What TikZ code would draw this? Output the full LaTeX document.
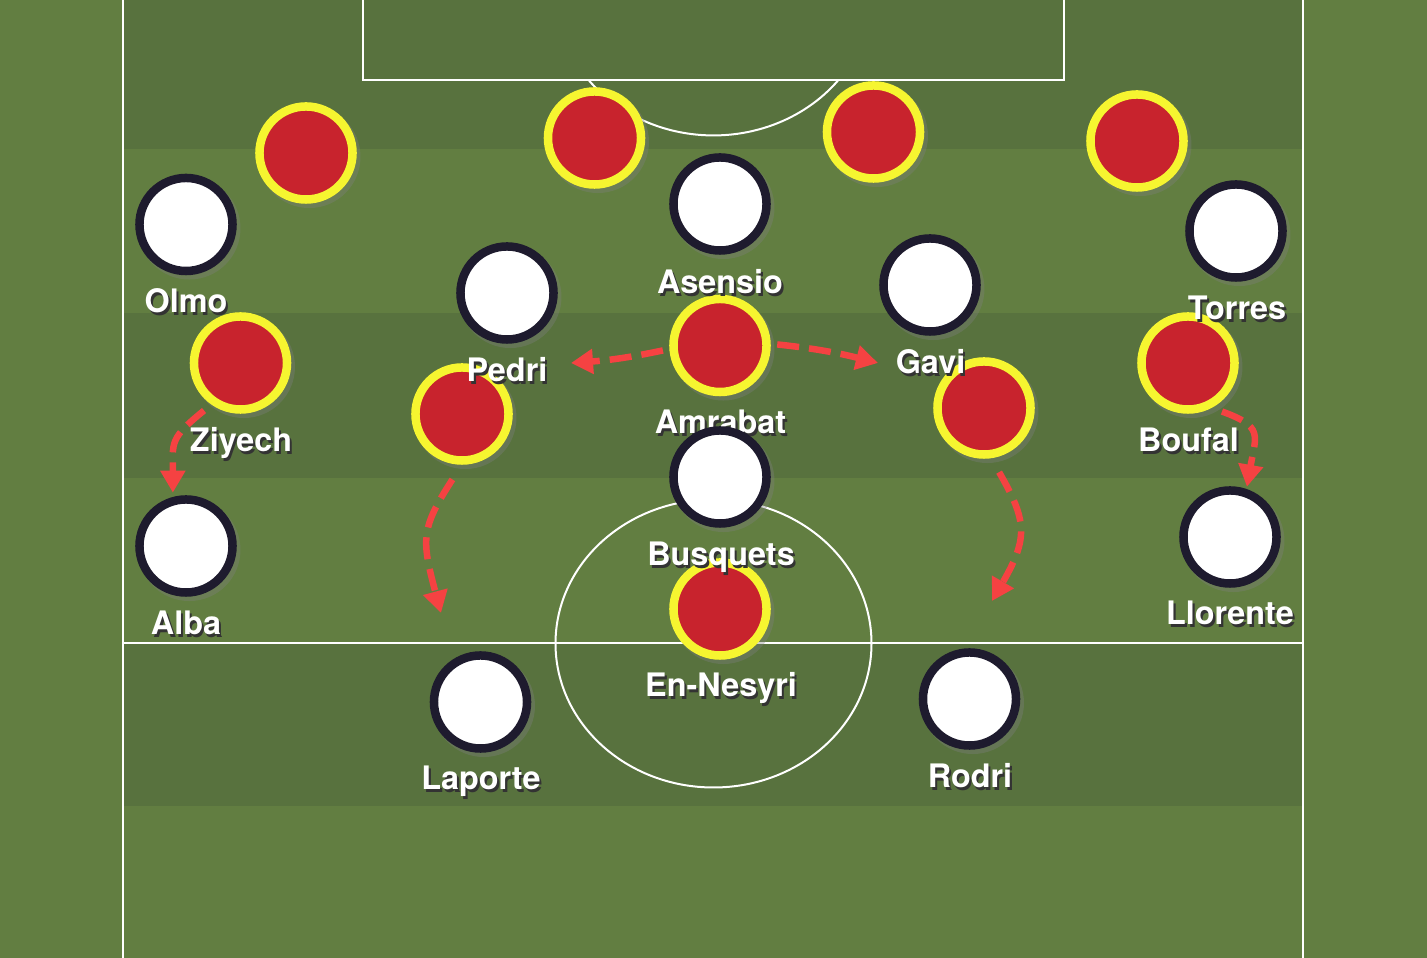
\documentclass[tikz,border=0pt]{standalone}
\usepackage{fontspec}
\setmainfont{TeX Gyre Heros}
\usetikzlibrary{arrows.meta,shadows}

\definecolor{grasslight}{RGB}{98,126,65}
\definecolor{grassdark}{RGB}{88,114,62}
\definecolor{kitred}{RGB}{200,35,45}
\definecolor{kityellow}{RGB}{246,245,48}
\definecolor{kitnavy}{RGB}{30,27,46}
\definecolor{runred}{RGB}{245,66,66}
\newcommand{\shadowtxt}[1]{\rlap{\kern0.6pt\raisebox{-0.6pt}{\color{black!80}#1}}#1}

\begin{document}
\begin{tikzpicture}[x=0.01cm,y=0.01cm,
    player/.style={circle,minimum size=0.93cm,line width=0.085cm,
      drop shadow={shadow xshift=0.03cm,shadow yshift=-0.035cm,shadow scale=1.1,opacity=0.35}},
    redp/.style={player,draw=kityellow,fill=kitred},
    whitep/.style={player,draw=kitnavy,fill=white},
    plabel/.style={text=white,font=\bfseries\fontsize{9.2}{11}\selectfont,anchor=base,inner sep=0pt},
    pitchline/.style={draw=white,line width=0.02cm},
    run/.style={draw=runred,line width=0.065cm,dash pattern=on 0.22cm off 0.1cm,
      -{Triangle[length=0.22cm,width=0.24cm]}}]
  \useasboundingbox (0,0) rectangle (1427,958);
  % grass
  \fill[grasslight] (0,0) rectangle (1427,958);
  \foreach \lo/\hi in {151.5/314.5,480/645,809/958}
    \fill[grassdark] (123,\lo) rectangle (1302.5,\hi);
  % lines
  \draw[pitchline] (123,0) -- (123,958);
  \draw[pitchline] (1302.5,0) -- (1302.5,958);
  \draw[pitchline] (123,314.5) -- (1302.5,314.5);
  \draw[pitchline] (363,958) |- (1064,877.5) -- (1064,958);
  \draw[pitchline] (838,877.5) arc[start angle=-38,end angle=-142,x radius=158,y radius=143];
  \draw[pitchline] (713.5,314.5) ellipse[x radius=158,y radius=144];

  % red side
  \node[redp] (r1) at (306,805) {};
  \node[redp] (r2) at (594.5,820) {};
  \node[redp] (r3) at (873.5,826) {};
  \node[redp] (r4) at (1137,817) {};
  \node[redp] (ziyech) at (240.5,595) {};
  \node[redp] (pr) at (462,544) {};
  \node[redp] (amrabat) at (720,612.5) {};
  \node[redp] (gr) at (984,550) {};
  \node[redp] (boufal) at (1188,595) {};
  \node[redp] (ennesyri) at (720,349) {};
  \node[plabel] (ziyechlbl) at (241,506) {\shadowtxt{Ziyech}};
  \node[plabel] (amrabatlbl) at (720.5,524) {\shadowtxt{Amrabat}};
  \node[plabel] (bouffallbl) at (1188.5,506) {\shadowtxt{Boufal}};
  \node[plabel] (ennesyrilbl) at (721,261) {\shadowtxt{En-Nesyri}};

  % white side
  \node[whitep] (olmo) at (186,733.5) {};
  \node[whitep] (asensio) at (720,754) {};
  \node[whitep] (torres) at (1236,727) {};
  \node[whitep] (pedri) at (507,665) {};
  \node[whitep] (gavi) at (930,673) {};
  \node[whitep] (busquets) at (720,481) {};
  \node[whitep] (alba) at (186,412) {};
  \node[whitep] (llorente) at (1230,421) {};
  \node[whitep] (laporte) at (480.5,256) {};
  \node[whitep] (rodri) at (969.5,259) {};
  \node[plabel] (olmolbl) at (186,645) {\shadowtxt{Olmo}};
  \node[plabel] (asensiolbl) at (720,664) {\shadowtxt{Asensio}};
  \node[plabel] (torreslbl) at (1237,638) {\shadowtxt{Torres}};
  \node[plabel] (pedrilbl) at (507,576) {\shadowtxt{Pedri}};
  \node[plabel] (gavilbl) at (930.5,584) {\shadowtxt{Gavi}};
  \node[plabel] (busquetslbl) at (721,392) {\shadowtxt{Busquets}};
  \node[plabel] (albalbl) at (186,323) {\shadowtxt{Alba}};
  \node[plabel] (llorentelbl) at (1230,333) {\shadowtxt{Llorente}};
  \node[plabel] (laportelbl) at (481,168) {\shadowtxt{Laporte}};
  \node[plabel] (rodrilbl) at (970,170) {\shadowtxt{Rodri}};

  % runs
  \coordinate (amrleft) at (571,595);
  \coordinate (amrright) at (878,595);
  \coordinate (prdrop) at (441,345);
  \coordinate (grdrop) at (992,357);
  \draw[run,shorten <=0.066cm] (amrabat.184) to[bend left=4] (amrleft);
  \draw[run,shorten <=0.065cm] (amrabat.2) to[bend left=4] (amrright);
  \draw[run,shorten <=0.094cm,shorten >=0.043cm] (ziyech.235) to[out=219,in=90,looseness=1.4] (alba.105);
  \draw[run,shorten <=0.108cm,shorten >=0.023cm] (boufal.-62) to[out=-20,in=80,looseness=1.6] (llorente.71);
  \draw[run,shorten <=0.175cm] (pr.270) to[out=237,in=105,looseness=1.3] (prdrop);
  \draw[run,shorten <=0.16cm] (gr.-82) to[out=-60,in=60,looseness=1.3] (grdrop);
\end{tikzpicture}
\end{document}
